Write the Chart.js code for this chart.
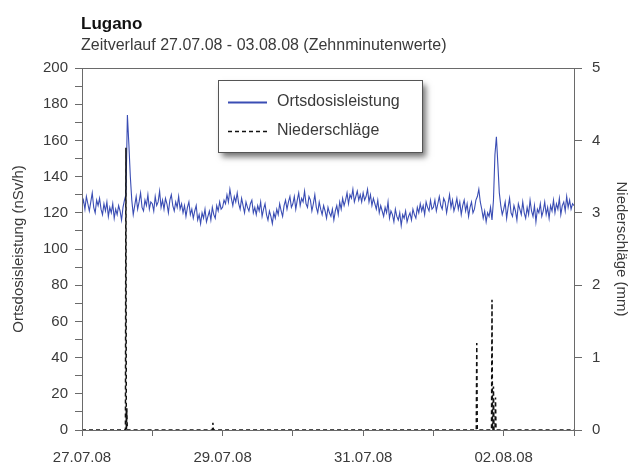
<!DOCTYPE html>
<html>
<head>
<meta charset="utf-8">
<script src="https://cdn.jsdelivr.net/npm/chart.js@4"></script>
<style>
html,body{margin:0;padding:0;background:#fff;}
#wrap{width:630px;height:465px;position:relative;}
</style>
</head>
<body>
<div id="wrap"><canvas id="c" width="630" height="465"></canvas></div>
<script>
// Half-hourly readings of the dose rate (nSv/h), starting 27.07.08 00:00
const doseDay1 = [124,127,122,129,125,121,126,131,123,120,127,124,128,122,119,125,121,126,118,123,120,125,117,122,119,124,121,116,123,127,130,174,158,140,127,119,124,129,122,126,131,123,121,127,124,130,122,126];
const doseDay2 = [125,121,129,124,126,132,123,127,122,128,125,120,127,130,124,121,126,123,129,122,125,120,124,118,123,126,119,122,117,121,124,116,119,114,120,117,122,115,118,121,116,123,119,117,124,121,126,122];
const doseDay3 = [123,127,125,130,126,133,128,124,129,126,131,125,122,128,124,120,126,123,121,125,127,120,123,119,124,121,126,118,122,125,119,116,121,118,114,120,117,122,119,125,121,118,124,127,122,126,129,123];
const doseDay4 = [125,129,122,127,131,124,128,126,132,125,123,129,127,121,125,130,123,120,126,122,119,124,121,117,123,120,118,122,116,121,124,119,126,122,128,124,127,131,125,130,128,133,126,129,132,127,130,126];
const doseDay5 = [131,127,129,133,126,130,124,128,125,122,127,120,124,121,118,123,120,126,117,121,119,115,122,118,116,120,113,119,117,121,115,118,120,116,122,119,117,123,120,125,121,124,119,126,123,121,127,122];
const doseDay6 = [123,127,121,125,129,124,122,128,126,120,125,130,123,127,121,124,128,122,126,119,124,127,121,125,118,123,126,120,122,127,129,133,126,122,117,121,115,120,118,123,116,127,152,162,147,131,124,119];
const doseDay7 = [122,126,117,123,128,120,118,124,121,116,125,122,119,126,120,117,123,119,127,121,118,124,115,122,120,125,118,121,126,119,123,117,124,121,127,120,125,122,128,119,124,126,121,129,123,127,122,125,124];

// Precipitation events (hours since 27.07.08 00:00) and amounts (mm per 10 min)
const rainHours = [15.0, 15.3, 44.7, 134.8, 140.0, 140.5, 141.2];
const rainMm    = [3.9, 0.3, 0.1, 1.2, 1.8, 0.6, 0.45];

// Axis tick labels (one per day)
const dayLabels = ['27.07.08','','29.07.08','','31.07.08','','02.08.08',''];

const titleText = 'Lugano';
const subtitleText = 'Zeitverlauf 27.07.08 - 03.08.08 (Zehnminutenwerte)';
const seriesNames = ['Ortsdosisleistung','Niederschläge'];

const doseValues = [].concat(doseDay1, doseDay2, doseDay3, doseDay4, doseDay5, doseDay6, doseDay7);
const dosePoints = doseValues.map((v, i) => ({x: i * 0.5, y: v}));

const rainPoints = [{x: 0, y: 0}];
rainHours.forEach((t, i) => {
  rainPoints.push({x: t - 0.17, y: 0});
  rainPoints.push({x: t, y: rainMm[i]});
  rainPoints.push({x: t + 0.17, y: 0});
});
rainPoints.push({x: 168, y: 0});
rainPoints.sort((a, b) => a.x - b.x);

const FONT = "'Liberation Sans', Arial, sans-serif";
const TXT = '#3a3a3a';
const AX = '#6a6a6a';
const BLUE = '#3a4db4';

const decor = {
  id: 'decor',
  afterDatasetsDraw(chart) {
    const ctx = chart.ctx, a = chart.chartArea;
    ctx.save();
    ctx.strokeStyle = AX; ctx.lineWidth = 1;
    ctx.strokeRect(Math.round(a.left) + 0.5, Math.round(a.top) + 0.5, Math.round(a.right - a.left), Math.round(a.bottom - a.top));
    // titles
    ctx.fillStyle = '#111';
    ctx.textBaseline = 'alphabetic';
    ctx.textAlign = 'left';
    ctx.font = "bold 17px " + FONT;
    ctx.fillText(titleText, 81, 29);
    ctx.fillStyle = TXT;
    ctx.font = "16px " + FONT;
    ctx.fillText(subtitleText, 81, 50);
    // legend box
    const bx = 218, by = 80, bw = 204, bh = 72;
    ctx.save();
    ctx.shadowColor = 'rgba(0,0,0,0.55)';
    ctx.shadowBlur = 6; ctx.shadowOffsetX = 4; ctx.shadowOffsetY = 5;
    ctx.fillStyle = '#fff';
    ctx.fillRect(bx, by, bw, bh);
    ctx.restore();
    ctx.strokeStyle = '#555'; ctx.lineWidth = 1;
    ctx.strokeRect(bx + 0.5, by + 0.5, bw, bh);
    const ds = chart.data.datasets;
    const rows = [102, 131];
    [0, 1].forEach((k) => {
      const d = ds[k];
      ctx.beginPath();
      ctx.strokeStyle = d.borderColor;
      ctx.lineWidth = k === 0 ? 2 : 1.6;
      ctx.setLineDash(d.borderDash || []);
      ctx.moveTo(228, rows[k] + 0.5); ctx.lineTo(267, rows[k] + 0.5);
      ctx.stroke();
      ctx.setLineDash([]);
      ctx.fillStyle = TXT;
      ctx.font = "16px " + FONT;
      ctx.textBaseline = 'middle';
      ctx.fillText(d.label, 277, rows[k]);
    });
    ctx.restore();
  }
};

new Chart(document.getElementById('c'), {
  type: 'line',
  data: {
    datasets: [
      {label: seriesNames[0], data: dosePoints, yAxisID: 'y', borderColor: BLUE, borderWidth: 1.1, pointRadius: 0, tension: 0, order: 2},
      {label: seriesNames[1], data: rainPoints, yAxisID: 'y2', borderColor: '#111', borderWidth: 1.5, borderDash: [4, 3], pointRadius: 0, tension: 0, order: 1}
    ]
  },
  options: {
    responsive: false,
    animation: false,
    events: [],
    layout: {padding: {top: 68, left: 10, right: 0, bottom: 0}},
    plugins: {legend: {display: false}, tooltip: {enabled: false}, title: {display: false}},
    scales: {
      x: {
        type: 'linear', min: 0, max: 168,
        afterFit(s) { s.height = 35; },
        afterBuildTicks(s) { s.ticks = dayLabels.map((l, i) => ({value: i * 24})); },
        ticks: {autoSkip: false, maxRotation: 0, padding: 13, color: TXT, font: {family: FONT, size: 15},
          callback: (v) => dayLabels[v / 24] || ''},
        grid: {drawOnChartArea: false, drawTicks: true, tickLength: 6, color: AX},
        border: {display: true, color: AX}
      },
      y: {
        position: 'left', min: 0, max: 200,
        afterFit(s) { s.width = 72; },
        ticks: {stepSize: 10, autoSkip: false, padding: 7, color: TXT, font: {family: FONT, size: 15},
          callback: (v) => (v % 20 === 0 ? String(v) : '')},
        grid: {drawOnChartArea: false, drawTicks: true, tickLength: 7, color: AX},
        border: {display: true, color: AX},
        title: {display: true, text: 'Ortsdosisleistung (nSv/h)', color: TXT, font: {family: FONT, size: 15}, padding: {top: 0, bottom: 4}}
      },
      y2: {
        position: 'right', min: 0, max: 5,
        afterFit(s) { s.width = 56; },
        ticks: {stepSize: 1, padding: 10, color: TXT, font: {family: FONT, size: 15}},
        grid: {drawOnChartArea: false, drawTicks: true, tickLength: 8, color: AX},
        border: {display: true, color: AX},
        title: {display: true, text: 'Niederschläge (mm)', color: TXT, font: {family: FONT, size: 15}, padding: {top: 0, bottom: 0}}
      }
    }
  },
  plugins: [decor]
});
</script>
</body>
</html>
